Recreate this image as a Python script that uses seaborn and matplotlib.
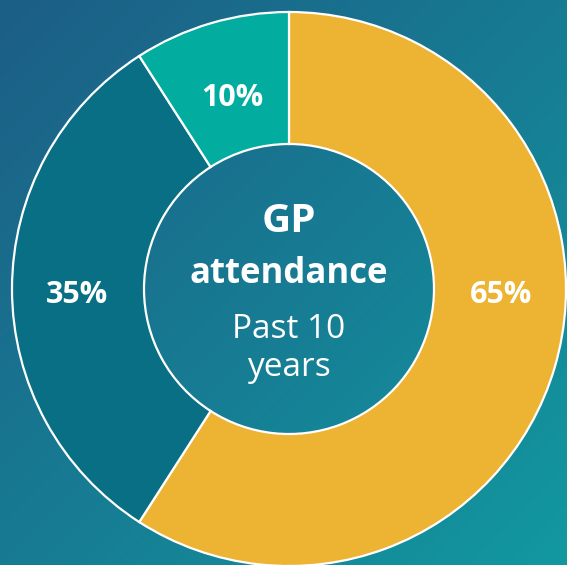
import numpy as np
import matplotlib.pyplot as plt
import seaborn as sns

sns.set_theme(style="white")
plt.rcParams['font.family'] = ['Open Sans', 'DejaVu Sans']

labels = ["65%", "35%", "10%"]
values = [65, 35, 10]
colors = ["#EDB332", "#096F84", "#02AC9F"]

W, H = 567, 565
fig = plt.figure(figsize=(W / 100, H / 100), dpi=100)
ax = fig.add_axes([0, 0, 1, 1])

# diagonal background gradient
yy, xx = np.mgrid[0:1:200j, 0:1:200j]
t = (xx + (1 - yy)) / 2
c0 = np.array([28, 94, 134]) / 255
c1 = np.array([18, 152, 160]) / 255
grad = c0 + (c1 - c0) * t[..., None]
ax.imshow(grad, extent=[0, W, 0, H], origin="lower", zorder=0, aspect="auto")

cx, cy, R = 289, 276, 277
wedges, texts = ax.pie(values, labels=labels, colors=colors, startangle=90,
                       counterclock=False, radius=R, center=(cx, cy),
                       labeldistance=0.72, frame=True,
                       wedgeprops=dict(width=R - 145, edgecolor="white", linewidth=1.6),
                       textprops=dict(color="white", fontsize=22, fontweight="bold",
                                      ha="center", va="center"))
ax.set_xlim(0, W)
ax.set_ylim(0, H)
ax.set_aspect("equal")
ax.axis("off")
texts[0].set_position((cx + 0.765 * R, cy - 6))
texts[1].set_position((cx - 0.765 * R, cy - 6))

ax.text(cx, H - 221, "GP", color="white", fontsize=29, fontweight="bold", ha="center", va="center")
ax.text(cx, H - 274, "attendance", color="white", fontsize=25, fontweight="bold", ha="center", va="center")
ax.text(cx, H - 330, "Past 10", color="white", fontsize=24, ha="center", va="center")
ax.text(cx, H - 368, "years", color="white", fontsize=24, ha="center", va="center")

fig.savefig("out.png", dpi=100)
